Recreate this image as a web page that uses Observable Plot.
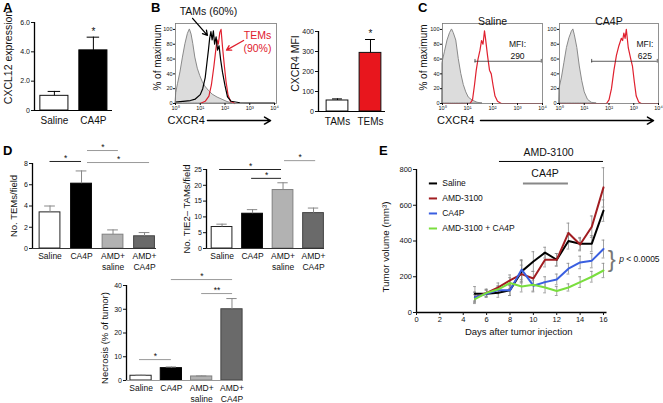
<!DOCTYPE html>
<html><head><meta charset="utf-8">
<script src="https://cdn.jsdelivr.net/npm/d3@7"></script>
<script src="https://cdn.jsdelivr.net/npm/@observablehq/plot@0.6"></script>
<style>
body{margin:0;background:#fff;}
#fig{position:relative;width:663px;height:403px;overflow:hidden;font-family:"Liberation Sans",Arial,sans-serif;background:#fff;}
.panel{position:absolute;}
.panel svg{overflow:visible;}
.lbl{position:absolute;font-weight:bold;font-size:13px;line-height:13px;color:#000;}
</style></head><body><div id="fig"></div>
<script>
// ---------- DATA ----------
// Panel A
const aCats = ["Saline", "CA4P"];
const aVals = [1.0, 4.1];
const aErrs = [0.3, 0.9];
// Panel B (MFI bars)
const bCats = ["TAMs", "TEMs"];
const bVals = [55, 293];
const bErrs = [8, 67];
// Panel B histogram: [log10 CXCR4, % of maximum]
const bIsotype = [[0,0],[0.03,14],[0.1,26],[0.2,42],[0.3,62],[0.4,80],[0.5,94],[0.58,100],[0.65,93],[0.72,80],[0.8,62],[0.9,47],[1.0,37],[1.1,29],[1.2,23],[1.35,17],[1.5,12],[1.7,8],[1.9,5],[2.1,2],[2.3,0]];
const bTAMs = [[0,2],[0.3,3],[0.6,4],[0.8,6],[1.0,12],[1.1,20],[1.2,35],[1.27,55],[1.33,72],[1.38,88],[1.43,97],[1.48,86],[1.53,98],[1.58,80],[1.64,90],[1.7,72],[1.76,78],[1.82,60],[1.9,42],[2.0,24],[2.1,9],[2.25,3],[2.6,1],[3,0.5],[4,0.5]];
const bTEMs = [[1.0,0],[1.2,3],[1.35,10],[1.45,25],[1.55,50],[1.62,70],[1.68,86],[1.73,80],[1.79,96],[1.84,100],[1.9,76],[1.97,52],[2.04,30],[2.12,12],[2.22,3],[2.4,0]];
// Panel C histograms
const cSalIso = [[0,55],[0.1,70],[0.2,85],[0.3,95],[0.38,100],[0.45,95],[0.55,85],[0.65,60],[0.75,40],[0.85,25],[0.95,15],[1.05,8],[1.2,4],[1.4,1],[1.6,0]];
const cSalCXCR4 = [[0,0],[1.1,0],[1.2,5],[1.28,25],[1.35,45],[1.42,60],[1.5,72],[1.56,85],[1.62,80],[1.68,98],[1.72,88],[1.8,65],[1.88,45],[1.95,40],[2.02,25],[2.1,10],[2.2,3],[2.35,0],[4,0]];
const cCa4Iso = [[0,20],[0.1,35],[0.2,55],[0.3,75],[0.4,88],[0.5,97],[0.56,100],[0.62,92],[0.72,75],[0.82,50],[0.92,30],[1.02,15],[1.15,5],[1.3,1],[1.5,0]];
const cCa4CXCR4 = [[0,0],[1.9,0],[2.0,5],[2.1,20],[2.2,45],[2.3,65],[2.4,78],[2.5,88],[2.55,85],[2.6,95],[2.65,88],[2.7,100],[2.78,75],[2.88,60],[2.95,50],[3.02,30],[3.1,10],[3.2,2],[3.3,0],[4,0]];
const cMFI = ["290", "625"];
// Panel D
const dCats = ["Saline", "CA4P", "AMD+\nsaline", "AMD+\nCA4P"];
const dFills = ["#ffffff", "#000000", "#b2b2b2", "#6a6a6a"];
const dStrokes = ["#222222", "#000000", "#808080", "#444444"];
const temVals = [3.4, 6.1, 1.3, 1.15];
const temErrs = [0.6, 1.2, 0.45, 0.35];
const tamVals = [6.8, 11.0, 18.5, 11.2];
const tamErrs = [0.9, 1.3, 2.3, 1.6];
const necVals = [2.0, 5.2, 1.7, 30.0];
const necErrs = [0.25, 0.5, 0.2, 4.5];
// Panel E
const days = [5, 6, 7, 8, 9, 10, 11, 12, 13, 14, 15, 16];
const salineVol = [105, 105, 110, 125, 230, 285, 335, 295, 400, 385, 385, 570];
const amdVol = [85, 110, 140, 180, 215, 190, 295, 295, 445, 380, 480, 700];
const ca4pVol = [85, 105, 125, 125, 240, 150, 170, 185, 245, 280, 290, 355];
const comboVol = [75, 110, 130, 165, 145, 155, 140, 120, 140, 170, 200, 235];
const salineErr = [40, 20, 25, 30, 60, 55, 30, 35, 45, 35, 45, 60];
const amdErr = [30, 20, 25, 30, 50, 40, 40, 35, 55, 35, 60, 110];
const ca4pErr = [25, 20, 20, 30, 55, 30, 30, 30, 30, 35, 40, 50];
const comboErr = [25, 20, 20, 30, 30, 40, 30, 25, 20, 30, 30, 40];
const seriesNames = ["Saline", "AMD-3100", "CA4P", "AMD-3100 + CA4P"];
const seriesColors = ["#000000", "#a11d21", "#3a5fe0", "#7ade3e"];

// ---------- HELPERS ----------
const FONT = '"Liberation Sans", Arial, Helvetica, sans-serif';
const fig = document.getElementById("fig");
function place(svg, left, top) {
  const d = document.createElement("div");
  d.className = "panel";
  d.style.left = left + "px"; d.style.top = top + "px";
  d.appendChild(svg); fig.appendChild(d);
}
function letter(t, left, top) {
  const d = document.createElement("div");
  d.className = "lbl"; d.textContent = t;
  d.style.left = left + "px"; d.style.top = top + "px";
  fig.appendChild(d);
}
const style = {fontFamily: FONT, overflow: "visible", background: "none", color: "#111"};
const sup = ["\u2070", "\u00b9", "\u00b2", "\u00b3", "\u2074"];

function yTitleMark(t, dx, dy, size) {
  return Plot.text([t], {frameAnchor: "left", textAnchor: "middle", lineAnchor: "middle", rotate: -90, dx: -dx, dy, fontSize: size});
}

function barChart(o) {
  const data = o.cats.map((c, i) => ({i, v: o.vals[i], e: o.errs[i], f: o.fills[i], s: o.strokes[i]}));
  const marks = [
    Plot.rect(data, {x1: d => d.i - o.half, x2: d => d.i + o.half, y1: 0, y2: "v", fill: "f", stroke: "s", strokeWidth: 1}),
    Plot.ruleX(data, {x: "i", y1: "v", y2: d => d.v + d.e, stroke: o.errColor, strokeWidth: 1}),
    Plot.ruleY(data, {y: d => d.v + d.e, x1: d => d.i - o.cap, x2: d => d.i + o.cap, stroke: o.errColor, strokeWidth: 1}),
    Plot.ruleY([0], {stroke: o.baseColor, strokeWidth: 1.2}),
    Plot.ruleX([o.xDomain[0]], {stroke: "#000", strokeWidth: 1.3}),
    Plot.axisY({ticks: o.yTicks, tickFormat: o.yFmt, tickSize: 3, tickPadding: 1.5, fontSize: 7, label: null}),
    Plot.axisX({ticks: o.cats.map((c, i) => i), tickFormat: i => o.cats[i], tickSize: 0, tickPadding: o.xPad, fontSize: o.catSize, lineHeight: 1.25, label: null}),
    yTitleMark(o.yTitle, o.titleDx, o.titleDy, o.titleSize)
  ];
  if (o.sig) {
    marks.push(Plot.ruleY(o.sig, {y: "y", x1: "x1", x2: "x2", stroke: "color", strokeWidth: 1}));
    marks.push(Plot.text(o.sig, {x: d => (d.x1 + d.x2) / 2, y: "y", text: "label", dy: -3, fontSize: 8.5}));
  }
  if (o.stars) marks.push(Plot.text(o.stars, {x: "x", y: "y", text: "label", fontSize: 10}));
  return Plot.plot({
    width: o.width, height: o.height,
    marginLeft: o.mL, marginRight: o.mR, marginTop: o.mT, marginBottom: o.mB,
    x: {domain: o.xDomain, label: null}, y: {domain: o.yDomain, label: null},
    style, marks
  });
}

function histChart(o) {
  const marks = [
    Plot.areaY(o.iso, {x: d => d[0], y: d => d[1], fill: "#dcdcdc", stroke: "#8a8a8a", strokeWidth: 1})
  ];
  for (const s of o.series) marks.push(Plot.line(s.data, {x: d => d[0], y: d => d[1], stroke: s.color, strokeWidth: 1.2}));
  marks.push(
    Plot.frame({stroke: "#777", strokeWidth: 0.8}),
    Plot.axisY({ticks: [0, 20, 40, 60, 80, 100], tickSize: 2, tickPadding: 1, fontSize: 5.5, label: null}),
    Plot.axisX({ticks: [0, 1, 2, 3, 4], tickFormat: n => "10" + sup[n], tickSize: 2, tickPadding: 1, fontSize: 5.5, label: null})
  );
  if (o.yTitle) marks.push(yTitleMark(o.yTitle, o.titleDx, -6, 10));
  if (o.extra) marks.push(...o.extra);
  return Plot.plot({
    width: o.width, height: o.height,
    marginLeft: o.mL, marginRight: o.mR, marginTop: 23, marginBottom: 37,
    x: {domain: o.xDomain, label: null}, y: {domain: [0, 108], label: null},
    style, marks
  });
}

// ---------- PANEL A ----------
place(barChart({
  cats: aCats, vals: aVals, errs: aErrs, fills: ["#fff", "#000"], strokes: ["#111", "#000"],
  width: 120, height: 140, mL: 34, mR: 8, mT: 22, mB: 30,
  xDomain: [-0.51, 1.49], yDomain: [0, 6], half: 0.36, cap: 0.16, errColor: "#000", baseColor: "#000",
  yTicks: [0, 2, 4, 6], yFmt: d => d === 0 ? "0" : d.toFixed(1),
  catSize: 10, xPad: 5, yTitle: "CXCL12 expression", titleDx: 26, titleDy: -9, titleSize: 10.5,
  stars: [{x: 1, y: 5.35, label: "*"}]
}), 0, 0);

// ---------- PANEL B histogram ----------
place(histChart({
  width: 150, height: 140, mL: 35, mR: 14, xDomain: [0, 4.08],
  iso: bIsotype, series: [{data: bTEMs, color: "#e0202e"}, {data: bTAMs, color: "#000"}],
  yTitle: "% of maximum", titleDx: 18,
  extra: [
    Plot.text(["TAMs (60%)"], {x: 1.33, y: 124, fontSize: 10.5}),
    Plot.arrow([{x1: 0.69, y1: 115, x2: 1.29, y2: 92}], {x1: "x1", y1: "y1", x2: "x2", y2: "y2", stroke: "#000", strokeWidth: 1.3, headLength: 6}),
    Plot.text(["TEMs\n(90%)"], {x: 3.31, y: 84, fontSize: 10.5, fill: "#e0202e", lineHeight: 1.3}),
    Plot.arrow([{x1: 2.75, y1: 85, x2: 2.06, y2: 72}], {x1: "x1", y1: "y1", x2: "x2", y2: "y2", stroke: "#e0202e", strokeWidth: 1.3, headLength: 6}),
    Plot.text(["CXCR4"], {x: -0.32, y: -23, textAnchor: "start", fontSize: 11}),
    Plot.arrow([{x1: 1.29, x2: 3.84, y: -23}], {x1: "x1", x2: "x2", y1: "y", y2: "y", stroke: "#000", strokeWidth: 1.5, headLength: 7})
  ]
}), 140, 0);

// ---------- PANEL B MFI bars ----------
place(barChart({
  cats: bCats, vals: bVals, errs: bErrs, fills: ["#fff", "#e8161d"], strokes: ["#111", "#111"],
  width: 100, height: 140, mL: 28, mR: 5, mT: 31, mB: 29,
  xDomain: [-0.576, 1.455], yDomain: [0, 400], half: 0.33, cap: 0.15, errColor: "#000", baseColor: "#000",
  yTicks: [0, 100, 200, 300, 400], yFmt: d => String(d),
  catSize: 10, xPad: 5, yTitle: "CXCR4 MFI", titleDx: 23, titleDy: -8, titleSize: 10.5,
  stars: [{x: 1, y: 388, label: "*"}]
}), 290, 0);

// ---------- PANEL C ----------
function mfiMarks(label, tx) {
  return [
    Plot.ruleY([57], {x1: 1.3, x2: 3.95, stroke: "#333", strokeWidth: 0.8}),
    Plot.ruleX([1.3, 3.95], {y1: 54.5, y2: 59.5, stroke: "#333", strokeWidth: 0.8}),
    Plot.text(["MFI:\n" + label], {x: tx, y: 73, fontSize: 8.5, lineHeight: 1.35})
  ];
}
place(histChart({
  width: 152, height: 140, mL: 47, mR: 5, xDomain: [0, 4],
  iso: cSalIso, series: [{data: cSalCXCR4, color: "#e0202e"}],
  yTitle: "% of maximum", titleDx: 19,
  extra: [
    Plot.text(["Saline"], {frameAnchor: "top", dy: -6, fontSize: 10.5}),
    ...mfiMarks(cMFI[0], 3.0),
    Plot.text(["CXCR4"], {x: -0.22, y: -23, textAnchor: "start", fontSize: 11}),
    Plot.arrow([{x1: 1.52, x2: 8.44, y: -23}], {x1: "x1", x2: "x2", y1: "y", y2: "y", stroke: "#000", strokeWidth: 1.5, headLength: 7})
  ]
}), 395, 0);
place(histChart({
  width: 133, height: 140, mL: 29, mR: 5, xDomain: [0, 4],
  iso: cCa4Iso, series: [{data: cCa4CXCR4, color: "#e0202e"}],
  extra: [
    Plot.text(["CA4P"], {frameAnchor: "top", dy: -6, fontSize: 10.5}),
    ...mfiMarks(cMFI[1], 3.45)
  ]
}), 530, 0);

// ---------- PANEL D ----------
place(barChart({
  cats: dCats, vals: temVals, errs: temErrs, fills: dFills, strokes: dStrokes,
  width: 165, height: 140, mL: 32, mR: 9, mT: 23, mB: 32,
  xDomain: [-0.556, 3.38], yDomain: [0, 8], half: 0.33, cap: 0.17, errColor: "#888", baseColor: "#333",
  yTicks: [0, 2, 4, 6, 8], yFmt: d => String(d),
  catSize: 8.5, xPad: 3, yTitle: "No. TEMs/field", titleDx: 19, titleDy: 0, titleSize: 9.5,
  sig: [
    {x1: 0, x2: 1, y: 8.19, label: "*", color: "#222"},
    {x1: 1.19, x2: 2.17, y: 9.22, label: "*", color: "#999"},
    {x1: 1.19, x2: 3.16, y: 8.09, label: "*", color: "#999"}
  ]
}), 0, 140);

place(barChart({
  cats: dCats, vals: tamVals, errs: tamErrs, fills: dFills, strokes: dStrokes,
  width: 165, height: 140, mL: 41, mR: 6, mT: 29, mB: 32,
  xDomain: [-0.51, 3.36], yDomain: [0, 25], half: 0.34, cap: 0.17, errColor: "#888", baseColor: "#333",
  yTicks: [0, 5, 10, 15, 20, 25], yFmt: d => String(d),
  catSize: 8.5, xPad: 3, yTitle: "No. TIE2\u2013 TAMs/field", titleDx: 20, titleDy: 0, titleSize: 9.5,
  sig: [
    {x1: -0.08, x2: 1.95, y: 25.0, label: "*", color: "#222"},
    {x1: 0.97, x2: 1.95, y: 22.2, label: "*", color: "#222"},
    {x1: 2.05, x2: 3.07, y: 27.8, label: "*", color: "#999"}
  ]
}), 165, 140);

place(barChart({
  cats: dCats, vals: necVals, errs: necErrs, fills: dFills, strokes: dStrokes,
  width: 165, height: 138, mL: 41, mR: 7, mT: 20, mB: 23,
  xDomain: [-0.48, 3.38], yDomain: [0, 40], half: 0.35, cap: 0.17, errColor: "#888", baseColor: "#999",
  yTicks: [0, 10, 20, 30, 40], yFmt: d => String(d),
  catSize: 8.5, xPad: 3, yTitle: "Necrosis (% of tumor)", titleDx: 22, titleDy: 5, titleSize: 9.5,
  sig: [
    {x1: -0.05, x2: 1.0, y: 8.8, label: "*", color: "#999"},
    {x1: 1.0, x2: 3.02, y: 42.5, label: "*", color: "#999"},
    {x1: 2.0, x2: 3.02, y: 36.6, label: "**", color: "#999"}
  ]
}), 85, 265);

// ---------- PANEL E ----------
const seriesVals = [salineVol, amdVol, ca4pVol, comboVol];
const seriesErrs = [salineErr, amdErr, ca4pErr, comboErr];
const eRows = [];
seriesVals.forEach((vals, s) => days.forEach((day, k) => eRows.push({s, day, v: vals[k], e: seriesErrs[s][k]})));
const eMarks = [
  Plot.ruleX(eRows, {x: "day", y1: d => d.v - d.e, y2: d => d.v + d.e, stroke: "#8a8a8a", strokeWidth: 0.8}),
  Plot.ruleY(eRows, {y: d => d.v - d.e, x1: d => d.day - 0.12, x2: d => d.day + 0.12, stroke: "#8a8a8a", strokeWidth: 0.8}),
  Plot.ruleY(eRows, {y: d => d.v + d.e, x1: d => d.day - 0.12, x2: d => d.day + 0.12, stroke: "#8a8a8a", strokeWidth: 0.8})
];
seriesVals.forEach((vals, s) => eMarks.push(
  Plot.line(days.map((day, k) => ({day, v: vals[k]})), {x: "day", y: "v", stroke: seriesColors[s], strokeWidth: 2})
));
const legendRows = seriesNames.map((name, i) => ({name, color: seriesColors[i], y: 722 - i * 84}));
eMarks.push(
  Plot.ruleY([0], {stroke: "#000", strokeWidth: 1.3}),
  Plot.ruleX([0], {stroke: "#000", strokeWidth: 1.3}),
  Plot.axisY({ticks: [0, 200, 400, 600, 800], tickSize: 3, tickPadding: 1.5, fontSize: 7.5, label: null}),
  Plot.axisX({ticks: [0, 2, 4, 6, 8, 10, 12, 14, 16], tickSize: 3, tickPadding: 1.5, fontSize: 7.5, label: null}),
  yTitleMark("Tumor volume (mm\u00b3)", 31, 6, 9.8),
  Plot.text(["Days after tumor injection"], {frameAnchor: "bottom", textAnchor: "middle", dy: 22, dx: 7, fontSize: 9.5}),
  Plot.ruleY(legendRows, {y: "y", x1: 1.1, x2: 1.8, stroke: "color", strokeWidth: 2}),
  Plot.text(legendRows, {y: "y", x: 2.2, text: "name", textAnchor: "start", fontSize: 8.5}),
  Plot.ruleY([845], {x1: 7.1, x2: 16, stroke: "#000", strokeWidth: 1}),
  Plot.text(["AMD-3100"], {x: 11.3, y: 895, fontSize: 10.5}),
  Plot.ruleY([722], {x1: 9.15, x2: 13.0, stroke: "#888", strokeWidth: 2}),
  Plot.text(["CA4P"], {x: 11.0, y: 778, fontSize: 10.5}),
  Plot.text(["}"], {x: 16.7, y: 295, fontSize: 24, fill: "#777", fontWeight: 300}),
  Plot.text(["p"], {x: 17.35, y: 297, textAnchor: "start", fontSize: 8.5, fontStyle: "italic"}),
  Plot.text(["< 0.0005"], {x: 17.35, y: 297, dx: 7, textAnchor: "start", fontSize: 8.5})
);
place(Plot.plot({
  width: 323, height: 205, marginLeft: 76, marginRight: 56.5, marginTop: 29, marginBottom: 33,
  x: {domain: [0, 16.3], label: null}, y: {domain: [0, 800], label: null},
  style, marks: eMarks
}), 340, 140);

// ---------- PANEL LETTERS ----------
letter("A", 3, 1); letter("B", 151, 1); letter("C", 418, 1); letter("D", 3, 144); letter("E", 379, 144);
</script></body></html>
